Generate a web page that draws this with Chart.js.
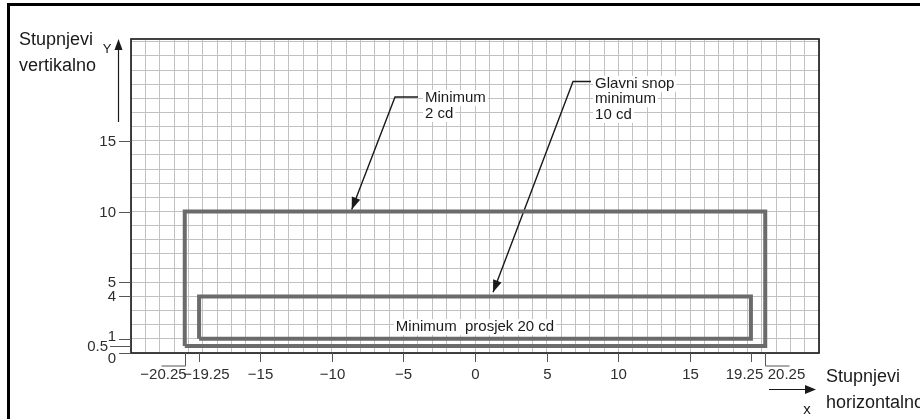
<!DOCTYPE html>
<html>
<head>
<meta charset="utf-8">
<script src="https://cdn.jsdelivr.net/npm/chart.js@4.4.1/dist/chart.umd.min.js"></script>
<style>
  html, body { margin: 0; padding: 0; background: #fff; }
  #wrap { position: relative; width: 920px; height: 419px; }
</style>
</head>
<body>
<div id="wrap"><canvas id="zone" width="920" height="419"></canvas></div>
<script>
//*Data
const xTickValues = [-20.25, -19.25, -15, -10, -5, 0, 5, 10, 15, 19.25, 20.25]
const xTickLabels = ['\u221220.25', '\u221219.25', '\u221215', '\u221210', '\u22125', '0', '5', '10', '15', '19.25', '20.25']
const yTickValues = [0, 0.5, 1, 4, 5, 10, 15]
const yTickLabels = ['0', '0.5', '1', '4', '5', '10', '15']

//? Zone outlines (degrees)
const outerX = [-20.25, 20.25, 20.25, -20.25, -20.25]
const outerY = [0.5, 0.5, 10, 10, 0.5]
const innerX = [-19.25, 19.25, 19.25, -19.25, -19.25]
const innerY = [1, 1, 4, 4, 1]

//? Leader lines of the notes (last point = arrow tip)
const leaderMinX = [-3.98, -5.58, -8.6]
const leaderMinY = [18.1, 18.1, 10.15]
const leaderMainX = [8.09, 6.84, 1.26]
const leaderMainY = [19.19, 19.19, 4.3]

//? Notes
const noteMinText = ['Minimum', '2 cd']
const noteMainText = ['Glavni snop', 'minimum', '10 cd']
const noteAvgText = 'Minimum  prosjek 20 cd'
const noteMinAt = [-3.49, 17.75]
const noteMainAt = [8.38, 18.75]
const noteAvgAt = [0, 1.9]

//*Axis range
const xMin = -24, xMax = 24
const yMin = 0, yMax = 22.2

//*Styles
const gridColor = '#c2c2c2'
const zoneColor = '#6b6b6b'
const inkColor = '#1a1a1a'
const tickFont = '15px "Liberation Sans Narrow", "Liberation Sans", Arial, sans-serif'
const noteFont = '15px "Liberation Sans", Arial, sans-serif'
const titleFont = '18px "Liberation Sans", Arial, sans-serif'
const xLabelShift = { '-20.25': -22, '-19.25': 7, '19.25': -7, '20.25': 21 }
const yLabelShift = { '0': 5, '1': -3 }

const zip = (xs, ys) => xs.map((x, i) => ({ x: x, y: ys[i] }))
const intSteps = (a, b) => {
  let out = []
  for (let v = Math.ceil(a); v <= Math.floor(b); v++) out.push({ value: v })
  return out
}

//? Arrowhead at (tx,ty) pointing away from (fx,fy)
const arrowHead = (ctx, fx, fy, tx, ty, len, half) => {
  let a = Math.atan2(ty - fy, tx - fx)
  ctx.beginPath()
  ctx.moveTo(tx, ty)
  ctx.lineTo(tx - len * Math.cos(a) + half * Math.sin(a), ty - len * Math.sin(a) - half * Math.cos(a))
  ctx.lineTo(tx - len * Math.cos(a) - half * Math.sin(a), ty - len * Math.sin(a) + half * Math.cos(a))
  ctx.closePath()
  ctx.fill()
}

const line = (ctx, x1, y1, x2, y2) => {
  ctx.beginPath()
  ctx.moveTo(x1, y1)
  ctx.lineTo(x2, y2)
  ctx.stroke()
}

//? Text lines with white backing
const noteLines = (ctx, lines, x, y, step, align) => {
  ctx.font = noteFont
  ctx.textAlign = align
  ctx.textBaseline = 'alphabetic'
  lines.forEach((t, i) => {
    let w = ctx.measureText(t).width
    let left = align === 'center' ? x - w / 2 : x
    ctx.fillStyle = '#fff'
    ctx.fillRect(left - 2, y + i * step - 12, w + 4, 16)
  })
  ctx.fillStyle = inkColor
  lines.forEach((t, i) => ctx.fillText(t, x, y + i * step))
}

//*Decorations drawn over the chart
const zoneDecor = {
  id: 'zoneDecor',
  afterDraw(chart) {
    const ctx = chart.ctx
    const area = chart.chartArea
    const sx = chart.scales.x
    const sy = chart.scales.y
    ctx.save()

    //? frame of the figure
    ctx.fillStyle = '#000'
    ctx.fillRect(7, 3, 913, 3)
    ctx.fillRect(7, 3, 3, 416)

    //? plot border
    ctx.strokeStyle = '#222'
    ctx.lineWidth = 1.7
    ctx.strokeRect(area.left, area.top, area.right - area.left, area.bottom - area.top)

    //? x ticks
    ctx.lineWidth = 1
    ctx.strokeStyle = '#555'
    ctx.font = tickFont
    ctx.fillStyle = '#2e2e2e'
    ctx.textAlign = 'center'
    ctx.textBaseline = 'middle'
    xTickValues.forEach((v, i) => {
      let px = Math.round(sx.getPixelForValue(v)) + 0.5
      let far = Math.abs(v) === 20.25
      line(ctx, px, area.bottom, px, area.bottom + (far ? 13 : 9))
      if (far) line(ctx, px, area.bottom + 13, px + (v < 0 ? -24 : 24), area.bottom + 13)
      ctx.fillText(xTickLabels[i], px + (xLabelShift[String(v)] || 0), area.bottom + 22)
    })

    //? y ticks
    ctx.textAlign = 'right'
    yTickValues.forEach((v, i) => {
      let py = Math.round(sy.getPixelForValue(v)) + 0.5
      let long = v === 0.5
      line(ctx, area.left - (long ? 21 : 12), py, area.left, py)
      let lx = long ? area.left - 23 : area.left - 15
      ctx.fillText(yTickLabels[i], lx, py + (yLabelShift[String(v)] || 0))
    })

    //? arrow tips of the note leaders
    ctx.fillStyle = inkColor
    ;[[leaderMinX, leaderMinY], [leaderMainX, leaderMainY]].forEach(([xs, ys]) => {
      let n = xs.length
      arrowHead(ctx,
        sx.getPixelForValue(xs[n - 2]), sy.getPixelForValue(ys[n - 2]),
        sx.getPixelForValue(xs[n - 1]), sy.getPixelForValue(ys[n - 1]), 12, 4.5)
    })

    //? notes
    noteLines(ctx, noteMinText, sx.getPixelForValue(noteMinAt[0]), sy.getPixelForValue(noteMinAt[1]), 16, 'left')
    noteLines(ctx, noteMainText, sx.getPixelForValue(noteMainAt[0]), sy.getPixelForValue(noteMainAt[1]), 15.5, 'left')
    noteLines(ctx, [noteAvgText], sx.getPixelForValue(noteAvgAt[0]), sy.getPixelForValue(noteAvgAt[1]) + 5, 16, 'center')

    //? axis arrows
    ctx.strokeStyle = inkColor
    ctx.fillStyle = inkColor
    ctx.lineWidth = 1.2
    line(ctx, 118.5, 122, 118.5, 48)
    arrowHead(ctx, 118.5, 60, 118.5, 39, 11, 4)
    line(ctx, 769, 389.5, 808, 389.5)
    arrowHead(ctx, 790, 389.5, 816, 389.5, 11, 4.5)

    ctx.font = '13px "Liberation Sans", Arial, sans-serif'
    ctx.textAlign = 'center'
    ctx.textBaseline = 'middle'
    ctx.fillText('Y', 107, 49)
    ctx.font = '15px "Liberation Sans", Arial, sans-serif'
    ctx.fillText('x', 807, 410)

    //? axis titles
    ctx.font = titleFont
    ctx.textAlign = 'left'
    ctx.textBaseline = 'alphabetic'
    ctx.fillText('Stupnjevi', 19, 45)
    ctx.fillText('vertikalno', 19, 71)
    ctx.fillText('Stupnjevi', 826, 382)
    ctx.fillText('horizontalno', 826, 408)

    ctx.restore()
  }
}

//*Chart
const ctx = document.getElementById('zone').getContext('2d')
const zoneLine = (xs, ys, color, width) => ({
  data: zip(xs, ys),
  showLine: true,
  borderColor: color,
  backgroundColor: color,
  borderWidth: width,
  borderJoinStyle: 'miter',
  pointRadius: 0,
  tension: 0,
  fill: false,
})

const chart = new Chart(ctx, {
  type: 'scatter',
  data: {
    datasets: [
      zoneLine(outerX, outerY, zoneColor, 4),
      zoneLine(innerX, innerY, zoneColor, 4),
      zoneLine(leaderMinX, leaderMinY, inkColor, 1.4),
      zoneLine(leaderMainX, leaderMainY, inkColor, 1.4),
    ],
  },
  options: {
    responsive: false,
    animation: false,
    events: [],
    layout: { padding: { left: 131, top: 39, right: 101, bottom: 66 } },
    plugins: { legend: { display: false }, tooltip: { enabled: false } },
    scales: {
      x: {
        type: 'linear',
        min: xMin,
        max: xMax,
        afterBuildTicks: (s) => { s.ticks = intSteps(xMin, xMax) },
        ticks: { display: false },
        grid: { color: gridColor, lineWidth: 1, drawTicks: false },
        border: { display: false },
      },
      y: {
        type: 'linear',
        min: yMin,
        max: yMax,
        afterBuildTicks: (s) => { s.ticks = intSteps(yMin, yMax) },
        ticks: { display: false },
        grid: { color: gridColor, lineWidth: 1, drawTicks: false },
        border: { display: false },
      },
    },
  },
  plugins: [zoneDecor],
})
</script>
</body>
</html>
